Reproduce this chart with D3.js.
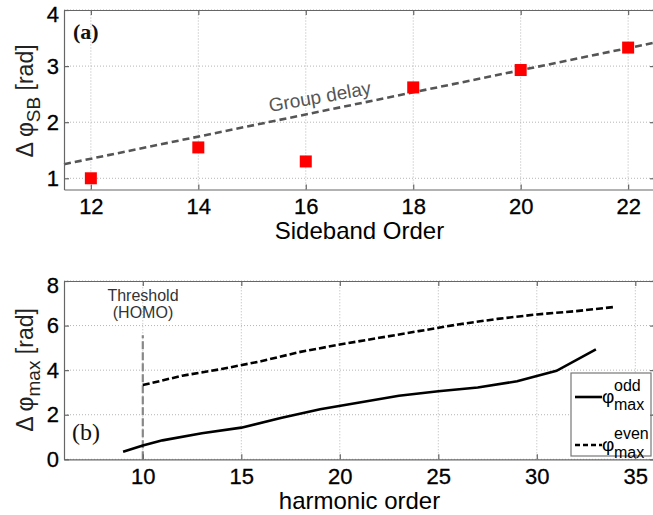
<!DOCTYPE html>
<html><head><meta charset="utf-8">
<script src="https://cdn.jsdelivr.net/npm/d3@7"></script>
<style>
html,body{margin:0;padding:0;background:#fff;}
svg{display:block;font-family:"Liberation Sans",Arial,Helvetica,sans-serif;}
</style></head>
<body><svg id="chart" width="653" height="515"></svg>
<script>
// ---- Panel (a) data ----
const sbOrder = [12, 14, 16, 18, 20, 22];
const sbPhase = [1.0, 1.55, 1.3, 2.62, 2.93, 3.33];
const groupDelayX = [11.5, 22.5];
const groupDelayY = [1.25, 3.42];
const aXTicks = [12, 14, 16, 18, 20, 22];
const aYTicks = [1, 2, 3, 4];

// ---- Panel (b) data ----
const oddOrder = [9, 10, 11, 13, 15, 17, 19, 21, 23, 25, 27, 29, 31, 33];
const oddPhase = [0.34, 0.62, 0.85, 1.17, 1.42, 1.85, 2.25, 2.55, 2.85, 3.05, 3.22, 3.5, 3.97, 4.93];
const evenOrder = [10, 12, 14, 16, 18, 20, 22, 24, 26, 28, 30, 32, 34];
const evenPhase = [3.33, 3.75, 4.05, 4.4, 4.82, 5.15, 5.45, 5.75, 6.05, 6.3, 6.5, 6.65, 6.84];
const thresholdX = [10, 10];
const thresholdY = [0, 5.57];
const bXTicks = [10, 15, 20, 25, 30, 35];
const bYTicks = [0, 2, 4, 6, 8];

const svg = d3.select("#chart");
svg.append("rect").attr("width", 653).attr("height", 515).attr("fill", "#fff");

const L = 64, R = 655;
const frameColor = "#666";
const tickFont = 22;

function panel(g, x, y, xt, yt) {
  const [x0, x1] = x.range();
  const [y0, y1] = y.range();
  const grid = g.append("g").attr("stroke", "#b5b5b5").attr("stroke-width", 1).attr("stroke-dasharray", "1,2");
  xt.forEach(v => grid.append("line").attr("x1", x(v)).attr("x2", x(v)).attr("y1", y0).attr("y2", y1));
  yt.forEach(v => grid.append("line").attr("x1", x0).attr("x2", x1).attr("y1", y(v)).attr("y2", y(v)));
}

function axes(g, x, y, xt, yt) {
  const [y0, y1] = y.range();
  const fmt = d3.format("d");
  const ax = g.append("g").attr("transform", `translate(0,${y0})`)
    .call(d3.axisBottom(x).tickValues(xt).tickFormat(fmt).tickSize(-5).tickPadding(9).tickSizeOuter(0));
  const at = g.append("g").attr("transform", `translate(0,${y1})`)
    .call(d3.axisTop(x).tickValues(xt).tickSize(-5).tickFormat("").tickSizeOuter(0));
  const al = g.append("g").attr("transform", `translate(${x.range()[0]},0)`)
    .call(d3.axisLeft(y).tickValues(yt).tickFormat(fmt).tickSize(-5).tickPadding(5).tickSizeOuter(0));
  const ar = g.append("g").attr("transform", `translate(${x.range()[1]},0)`)
    .call(d3.axisRight(y).tickValues(yt).tickSize(-5).tickFormat("").tickSizeOuter(0));
  [ax, at, al, ar].forEach(a => {
    a.select(".domain").attr("stroke", frameColor).attr("stroke-width", 1.2);
    a.selectAll(".tick line").attr("stroke", frameColor).attr("stroke-width", 1.2);
    a.selectAll(".tick text").attr("fill", "#000").style("font-size", tickFont + "px")
      .style("font-family", '"Liberation Sans",Arial,sans-serif')
      .attr("stroke", "#000").attr("stroke-width", 0.3);
  });
  const top = yt[yt.length - 1];
  al.selectAll(".tick").filter(d => d === top).select("text").attr("dy", "0.5em");
}

// ================= Panel (a) =================
const xa = d3.scaleLinear().domain([11.5, 22.5]).range([L, R]);
const ya = d3.scaleLinear().domain([0.8, 4]).range([189.5, 10]);
const ga = svg.append("g");
panel(ga, xa, ya, aXTicks, aYTicks);

ga.append("path")
  .datum(groupDelayX.map((v, i) => [v, groupDelayY[i]]))
  .attr("d", d3.line().x(d => xa(d[0])).y(d => ya(d[1])))
  .attr("fill", "none").attr("stroke", "#555").attr("stroke-width", 2.6)
  .attr("stroke-dasharray", "7,4");

ga.append("text").attr("x", 321).attr("y", 103)
  .attr("transform", "rotate(-10,321,103)")
  .attr("text-anchor", "middle").attr("fill", "#555").style("font-size", "19px")
  .text("Group delay");

const sq = 12;
ga.selectAll("rect.sb").data(sbOrder.map((v, i) => [v, sbPhase[i]])).enter()
  .append("rect").attr("class", "sb")
  .attr("x", d => xa(d[0]) - sq / 2).attr("y", d => ya(d[1]) - sq / 2)
  .attr("width", sq).attr("height", sq).attr("fill", "#ff0000");

axes(ga, xa, ya, aXTicks, aYTicks);

ga.append("text").attr("x", 73).attr("y", 39)
  .style("font-family", '"Liberation Serif","DejaVu Serif",serif').style("font-weight", "bold")
  .style("font-size", "22px").attr("fill", "#111").text("(a)");

ga.append("text").attr("x", (L + R) / 2).attr("y", 239).attr("text-anchor", "middle")
  .style("font-size", "24px").attr("fill", "#000").text("Sideband Order");

const yla = ga.append("text").attr("transform", "translate(33,101) rotate(-90)")
  .attr("text-anchor", "middle").style("font-size", "23px").attr("fill", "#222");
yla.append("tspan").text("Δ φ");
yla.append("tspan").attr("dy", 7).style("font-size", "19px").text("SB");
yla.append("tspan").attr("dy", -7).text(" [rad]");

// ================= Panel (b) =================
const xb = d3.scaleLinear().domain([6, 36]).range([L, R]);
const yb = d3.scaleLinear().domain([0, 8]).range([459.3, 281]);
const gb = svg.append("g");
panel(gb, xb, yb, bXTicks, bYTicks);

gb.append("path")
  .datum(thresholdX.map((v, i) => [v, thresholdY[i]]))
  .attr("d", d3.line().x(d => xb(d[0])).y(d => yb(d[1])))
  .attr("fill", "none").attr("stroke", "#888").attr("stroke-width", 2.2)
  .attr("stroke-dasharray", "8,3");

gb.append("path")
  .datum(evenOrder.map((v, i) => [v, evenPhase[i]]))
  .attr("d", d3.line().x(d => xb(d[0])).y(d => yb(d[1])))
  .attr("fill", "none").attr("stroke", "#000").attr("stroke-width", 2.6)
  .attr("stroke-dasharray", "7,3");

gb.append("path")
  .datum(oddOrder.map((v, i) => [v, oddPhase[i]]))
  .attr("d", d3.line().x(d => xb(d[0])).y(d => yb(d[1])))
  .attr("fill", "none").attr("stroke", "#000").attr("stroke-width", 2.6);

const thr = gb.append("text").attr("text-anchor", "middle").style("font-size", "16px").attr("fill", "#333");
thr.append("tspan").attr("x", 143).attr("y", 301).text("Threshold");
thr.append("tspan").attr("x", 143).attr("y", 318).text("(HOMO)");

gb.append("text").attr("x", 72).attr("y", 440)
  .style("font-family", '"Liberation Serif","DejaVu Serif",serif')
  .style("font-size", "24px").attr("fill", "#111").text("(b)");

// legend
const lg = gb.append("g");
lg.append("rect").attr("x", 571).attr("y", 373).attr("width", 80).attr("height", 83)
  .attr("fill", "#fff").attr("stroke", "#777").attr("stroke-width", 1.2);
lg.append("line").attr("x1", 575).attr("x2", 602).attr("y1", 397).attr("y2", 397)
  .attr("stroke", "#000").attr("stroke-width", 2.6);
lg.append("line").attr("x1", 575).attr("x2", 602).attr("y1", 445).attr("y2", 445)
  .attr("stroke", "#000").attr("stroke-width", 2.6).attr("stroke-dasharray", "5,3");
[["odd", 397], ["even", 445]].forEach(([s, cy]) => {
  lg.append("text").attr("x", 602).attr("y", cy + 6).style("font-size", "19px").text("φ");
  lg.append("text").attr("x", 614).attr("y", cy - 6).style("font-size", "16px").text(s);
  lg.append("text").attr("x", 614).attr("y", cy + 13).style("font-size", "16px").text("max");
});

axes(gb, xb, yb, bXTicks, bYTicks);

gb.append("text").attr("x", (L + R) / 2).attr("y", 509).attr("text-anchor", "middle")
  .style("font-size", "24px").attr("fill", "#000").text("harmonic order");

const ylb = gb.append("text").attr("transform", "translate(33,370) rotate(-90)")
  .attr("text-anchor", "middle").style("font-size", "23px").attr("fill", "#222");
ylb.append("tspan").text("Δ φ");
ylb.append("tspan").attr("dy", 7).style("font-size", "19px").text("max");
ylb.append("tspan").attr("dy", -7).text(" [rad]");
</script></body></html>
